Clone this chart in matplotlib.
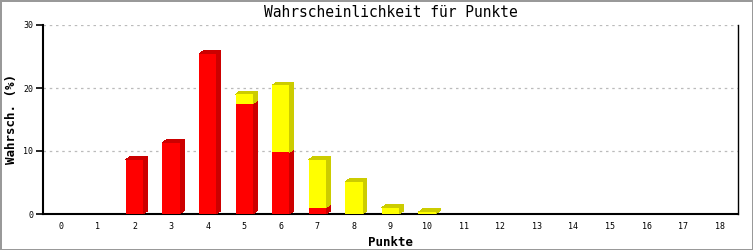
import matplotlib.pyplot as plt
from matplotlib.patches import Polygon
import numpy as np

# Werte
punkte = list(range(19))
rot = [0, 0, 8.6, 11.3, 25.4, 17.5, 9.8, 1.0, 0, 0, 0, 0, 0, 0, 0, 0, 0, 0, 0]
gelb = [0, 0, 0, 0, 0, 1.5, 10.6, 7.6, 5.1, 1.0, 0.3, 0, 0, 0, 0, 0, 0, 0, 0]
y_ticks = [0, 10, 20, 30]

plt.rcParams['font.family'] = ['DejaVu Sans Mono']

fig = plt.figure(figsize=(7.53, 2.5), dpi=100)
fig.patch.set_edgecolor('#999999')
fig.patch.set_linewidth(2)
ax = fig.add_axes([43 / 753, 1 - 214 / 250, (738 - 43) / 753, (214 - 25) / 250])

width = 0.47
dx, dy = 0.12, 0.5  # 3D-Tiefe in Datenkoordinaten


def draw_bar(x, bottom, h, face, dark, top=True):
    if h <= 0:
        return
    x0, x1 = x - width / 2, x + width / 2
    ax.add_patch(plt.Rectangle((x0, bottom), width, h, facecolor=face, edgecolor='none',
                               antialiased=False, zorder=4))
    ax.add_patch(Polygon([(x1, bottom), (x1 + dx, bottom + dy), (x1 + dx, bottom + h + dy), (x1, bottom + h)],
                         closed=True, facecolor=dark, edgecolor='none', antialiased=False, zorder=3))
    if top:
        ax.add_patch(Polygon([(x0, bottom + h), (x0 + dx, bottom + h + dy), (x1 + dx, bottom + h + dy), (x1, bottom + h)],
                             closed=True, facecolor=dark, edgecolor='none', antialiased=False, zorder=3))


for x, r, g in zip(punkte, rot, gelb):
    draw_bar(x, 0, r, '#ff0000', '#cc0000', top=(g == 0))
    draw_bar(x, r, g, '#ffff00', '#cccc00')

ax.set_xlim(-0.5, 18.5)
ax.set_ylim(0, 30)
ax.set_xticks(punkte)
ax.set_xticklabels([str(p) for p in punkte], fontsize=6)
ax.set_yticks(y_ticks)
ax.set_yticklabels([str(t) for t in y_ticks], fontsize=6)
ax.tick_params(axis='x', length=0, pad=6)
ax.tick_params(axis='y', length=5, width=1.2, pad=2)
ax.yaxis.grid(True, linestyle=(0, (2, 3)), color='#bbbbbb', linewidth=0.9)
ax.set_axisbelow(True)

ax.spines['top'].set_visible(False)
for s in ['left', 'bottom']:
    ax.spines[s].set_linewidth(1.5)
ax.spines['right'].set_linewidth(1.0)

ax.set_title('Wahrscheinlichkeit für Punkte', fontsize=10.5, pad=6)
ax.set_xlabel('Punkte', fontsize=9, fontweight='bold', labelpad=3)
ax.set_ylabel('Wahrsch. (%)', fontsize=9, fontweight='bold')
ax.yaxis.set_label_coords((18 - 43) / 695, 0.5)

fig.savefig('out.png', dpi=100)
